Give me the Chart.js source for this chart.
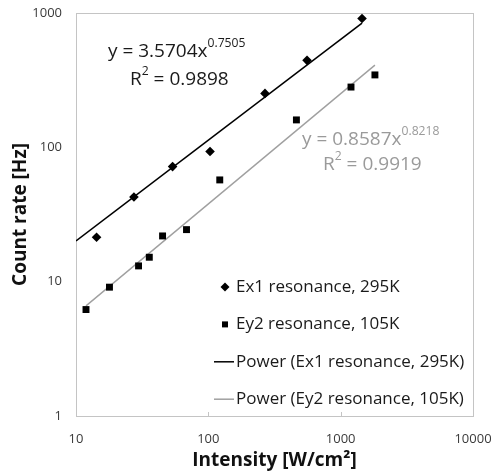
<!DOCTYPE html>
<html>
<head>
<meta charset="utf-8">
<script src="https://cdn.jsdelivr.net/npm/chart.js@4.4.1/dist/chart.umd.min.js"></script>
<style>
    html, body { margin: 0; padding: 0; background: #fff; }
    #wrap { width: 493px; height: 475px; position: relative; }
</style>
</head>
<body>
<div id="wrap"><canvas id="countChart"></canvas></div>
<script>
// Measured points: intensity (W/cm²) and count rate (Hz)
const ex1Intensity = [14.3, 27.4, 53.7, 103, 268, 557, 1450];
const ex1Counts = [21.4, 42.7, 71.9, 93, 252, 444, 910];
const ey2Intensity = [11.9, 17.9, 29.7, 35.8, 45.1, 68.4, 122, 463, 1197, 1815];
const ey2Counts = [6.2, 9.1, 13.1, 15.2, 21.9, 24.4, 57.2, 160, 281, 346];

// Power trendline end points
const ex1TrendX = [10, 1450];
const ex1TrendY = [20.1, 842];
const ey2TrendX = [11.9, 1815];
const ey2TrendY = [6.6, 409];

const xTicks = [10, 100, 1000, 10000];
const yTicks = [1, 10, 100, 1000];

const seriesLabels = [
    "Ex1 resonance, 295K",
    "Ey2 resonance, 105K",
    "Power (Ex1 resonance, 295K)",
    "Power (Ey2 resonance, 105K)",
];

// Fit equations shown on the plot
const ex1Fit = { coef: "3.5704", exp: "0.7505", r2: "0.9898" };
const ey2Fit = { coef: "0.8587", exp: "0.8218", r2: "0.9919" };

const FONT = "'Open Sans', 'Liberation Sans', sans-serif";

function toPoints(xs, ys) {
    return xs.map((x, i) => ({ x: x, y: ys[i] }));
}

// text with a raised part, e.g. x^0.75 or R^2
function drawSup(ctx, parts, x, y, size) {
    let cx = x;
    parts.forEach((p) => {
        const s = p.sup ? size * 0.64 : size;
        ctx.font = s + "px " + FONT;
        ctx.fillText(p.t, cx, p.sup ? y - size * 0.42 : y);
        cx += ctx.measureText(p.t).width;
    });
}

const plotFrame = {
    id: "plotFrame",
    beforeDatasetsDraw(chart) {
        const a = chart.chartArea;
        const ctx = chart.ctx;
        ctx.save();
        ctx.strokeStyle = "#c4c4c4";
        ctx.lineWidth = 1;
        ctx.strokeRect(Math.round(a.left) + 0.5, Math.round(a.top) + 0.5,
            Math.round(a.right - a.left), Math.round(a.bottom - a.top));
        // small tick marks at the bottom edge
        const xs = chart.scales.x;
        xTicks.slice(1, -1).forEach((v) => {
            const px = Math.round(xs.getPixelForValue(v)) + 0.5;
            ctx.beginPath();
            ctx.moveTo(px, a.bottom);
            ctx.lineTo(px, a.bottom - 4);
            ctx.stroke();
        });
        ctx.restore();
    },
};

const fitLabels = {
    id: "fitLabels",
    afterDraw(chart) {
        const ctx = chart.ctx;
        ctx.save();
        ctx.textBaseline = "middle";
        ctx.textAlign = "left";

        ctx.fillStyle = "#1a1a1a";
        drawSup(ctx, [{ t: "y = " + ex1Fit.coef + "x" }, { t: ex1Fit.exp, sup: true }], 108, 52, 19);
        drawSup(ctx, [{ t: "R" }, { t: "2", sup: true }, { t: " = " + ex1Fit.r2 }], 130, 80, 19);

        ctx.fillStyle = "#9a9a9a";
        drawSup(ctx, [{ t: "y = " + ey2Fit.coef + "x" }, { t: ey2Fit.exp, sup: true }], 302, 140, 19);
        drawSup(ctx, [{ t: "R" }, { t: "2", sup: true }, { t: " = " + ey2Fit.r2 }], 323, 165, 19);
        ctx.restore();
    },
};

const legendBox = {
    id: "legendBox",
    afterDraw(chart) {
        const ctx = chart.ctx;
        ctx.save();
        ctx.font = "17px " + FONT;
        ctx.textBaseline = "middle";
        ctx.textAlign = "left";
        chart.data.datasets.forEach((ds, i) => {
            const y = 287 + i * 37.4;
            ctx.fillStyle = "#000";
            ctx.strokeStyle = ds.borderColor;
            if (ds.showLine) {
                ctx.lineWidth = 1.5;
                ctx.beginPath();
                ctx.moveTo(214, y);
                ctx.lineTo(234, y);
                ctx.stroke();
            } else if (ds.pointStyle === "rectRot") {
                ctx.beginPath();
                ctx.moveTo(225, y - 4.5);
                ctx.lineTo(229.5, y);
                ctx.lineTo(225, y + 4.5);
                ctx.lineTo(220.5, y);
                ctx.closePath();
                ctx.fill();
            } else {
                ctx.fillRect(222, y - 3, 6, 6);
            }
            ctx.fillStyle = "#1a1a1a";
            ctx.fillText(ds.label, 236, y);
        });
        ctx.restore();
    },
};

const ctx = document.getElementById("countChart").getContext("2d");
new Chart(ctx, {
    type: "scatter",
    data: {
        datasets: [
            {
                label: seriesLabels[0],
                data: toPoints(ex1Intensity, ex1Counts),
                pointStyle: "rectRot",
                pointRadius: 4.8,
                backgroundColor: "#000",
                borderColor: "#000",
                borderWidth: 0,
                order: 1,
            },
            {
                label: seriesLabels[1],
                data: toPoints(ey2Intensity, ey2Counts),
                pointStyle: "rect",
                pointRadius: 4.9,
                backgroundColor: "#000",
                borderColor: "#000",
                borderWidth: 0,
                order: 1,
            },
            {
                label: seriesLabels[2],
                data: toPoints(ex1TrendX, ex1TrendY),
                showLine: true,
                pointRadius: 0,
                borderColor: "#000",
                borderWidth: 1.6,
                order: 2,
            },
            {
                label: seriesLabels[3],
                data: toPoints(ey2TrendX, ey2TrendY),
                showLine: true,
                pointRadius: 0,
                borderColor: "#a0a0a0",
                borderWidth: 1.4,
                order: 2,
            },
        ],
    },
    options: {
        responsive: true,
        maintainAspectRatio: false,
        animation: false,
        layout: {
            padding: { top: 13, right: 20, left: 0, bottom: 0 },
        },
        plugins: {
            legend: { display: false },
            tooltip: { enabled: false },
        },
        scales: {
            x: {
                type: "logarithmic",
                min: 10,
                max: 10000,
                afterBuildTicks: (s) => {
                    s.ticks = xTicks.map((v) => ({ value: v }));
                },
                afterFit: (s) => {
                    s.paddingLeft = 0;
                    s.paddingRight = 0;
                    s.height = 59;
                },
                grid: { display: false, drawTicks: false },
                border: { display: false },
                ticks: {
                    autoSkip: false,
                    maxRotation: 0,
                    padding: 15,
                    color: "#3a3a3a",
                    font: { size: 13, family: FONT },
                    callback: (v) => String(v),
                },
                title: {
                    display: true,
                    text: "Intensity [W/cm²]",
                    color: "#111",
                    font: { size: 19, weight: "bold", family: FONT },
                    padding: { top: 0, bottom: 3 },
                },
            },
            y: {
                type: "logarithmic",
                min: 1,
                max: 1000,
                afterBuildTicks: (s) => {
                    s.ticks = yTicks.map((v) => ({ value: v }));
                },
                afterFit: (s) => {
                    s.width = 76;
                    s.paddingTop = 0;
                    s.paddingBottom = 0;
                },
                grid: { display: false, drawTicks: false },
                border: { display: false },
                ticks: {
                    autoSkip: false,
                    padding: 14,
                    color: "#3a3a3a",
                    font: { size: 13, family: FONT },
                    callback: (v) => String(v),
                },
                title: {
                    display: true,
                    text: "Count rate [Hz]",
                    color: "#111",
                    font: { size: 19, weight: "bold", family: FONT },
                    padding: { top: 9, bottom: 0 },
                },
            },
        },
    },
    plugins: [plotFrame, fitLabels, legendBox],
});
</script>
</body>
</html>
